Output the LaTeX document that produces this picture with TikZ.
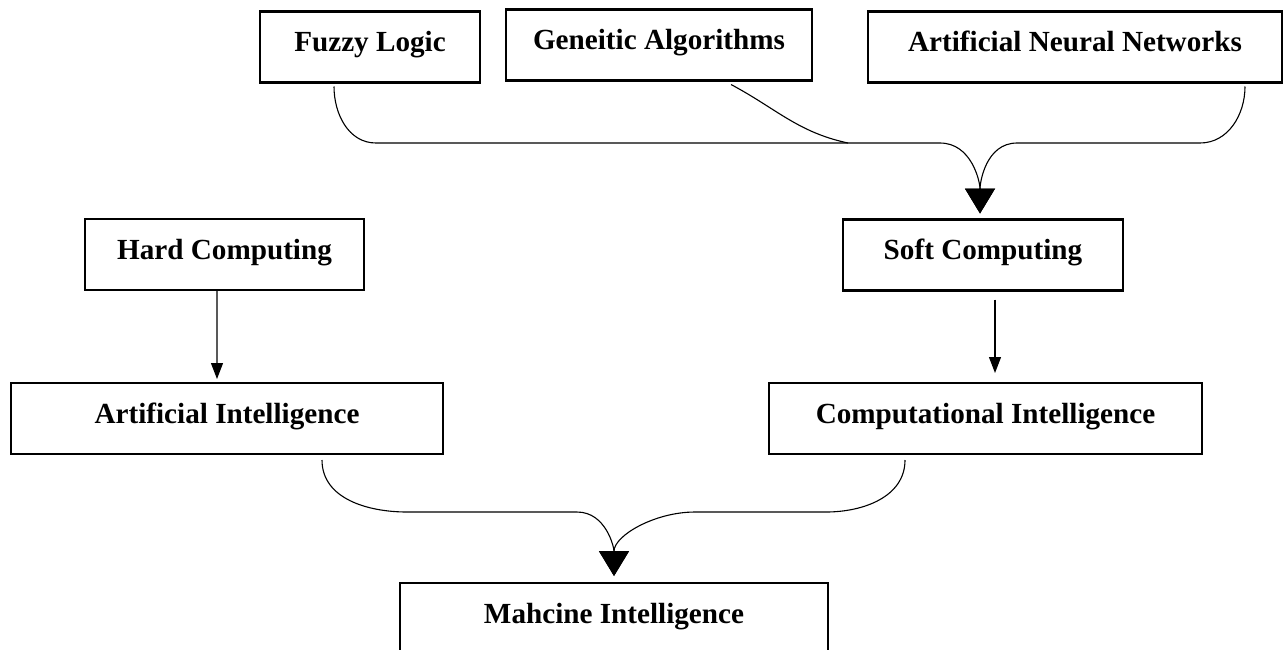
\documentclass[tikz,border=0pt]{standalone}
\usepackage{fontspec}
\setmainfont{Liberation Serif}
\usetikzlibrary{arrows.meta}

\tikzset{
  box/.style={draw, rectangle, line width=0.05cm, inner sep=0pt, outer sep=0pt,
    minimum height=1.42cm, text height=0.5cm, text depth=0.32cm,
    font=\fontsize{16.6}{20}\selectfont\bfseries},
  link/.style={line width=0.022cm},
  smallhead/.style={link, -{Triangle[length=0.32cm,width=0.24cm]}},
  bighead/.style={link, -{Triangle[length=0.5cm,width=0.6cm]}},
}

\begin{document}
\begin{tikzpicture}
                        \useasboundingbox (0,0) rectangle (25.700000,-12.980000);

                        % Drawing top row
                        \node [box, minimum width=4.40cm] (fuzzy)   at (7.400000,-0.940000)  {Fuzzy Logic};
                        \node [box, minimum width=6.12cm] (genetic) at (13.180000,-0.900000) {Geneitic Algorithms};
                        \node [box, minimum width=8.28cm] (ann)     at (21.500000,-0.940000) {Artificial Neural Networks};

                        % Drawing middle row
                        \node [box, minimum width=5.58cm] (hard) at (4.490000,-5.090000)  {Hard Computing};
                        \node [box, minimum width=5.60cm] (soft) at (19.660000,-5.100000) {Soft Computing};

                        % Drawing intelligence row
                        \node [box, minimum width=8.64cm] (ai) at (4.540000,-8.370000)  {Artificial Intelligence};
                        \node [box, minimum width=8.66cm] (ci) at (19.710000,-8.370000) {Computational Intelligence};

                        % Drawing bottom box (cut by the page)
                        \node [box, minimum width=8.56cm] (mi) at (12.280000,-12.370000) {Mahcine Intelligence};

                        % Drawing bracket into soft computing
                        \draw [bighead] ([xshift=-0.72cm,yshift=-0.08cm]fuzzy.south) to[out=-90,in=180] (7.520000,-2.860000)
                              -- (18.800000,-2.860000) to[out=0,in=90] ([xshift=-0.06cm,yshift=0.12cm]soft.north);%
                        \draw [bighead] ([xshift=3.40cm,yshift=-0.08cm]ann.south) to[out=-90,in=0] (24.000000,-2.860000)
                              -- (20.340000,-2.860000) to[out=180,in=90] ([xshift=-0.06cm,yshift=0.12cm]soft.north);%
                        \draw [link] ([xshift=1.44cm,yshift=-0.08cm]genetic.south) to[out=-28,in=168] (16.960000,-2.860000);%

                        % Drawing straight arrows
                        \draw [smallhead] ([xshift=-0.15cm]hard.south) -- ([xshift=-0.20cm,yshift=0.08cm]ai.north);%
                        \draw [smallhead] ([xshift=0.24cm,yshift=-0.18cm]soft.south) -- ([xshift=0.19cm,yshift=0.20cm]ci.north);%

                        % Drawing bracket into machine intelligence
                        \draw [bighead] ([xshift=1.90cm,yshift=-0.12cm]ai.south) to[out=-90,in=180] (8.140000,-10.240000)
                              -- (11.540000,-10.240000) to[out=0,in=90] ([yshift=0.14cm]mi.north);%
                        \draw [bighead] ([xshift=-1.61cm,yshift=-0.12cm]ci.south) to[out=-90,in=0] (16.520000,-10.240000)
                              -- (13.900000,-10.240000) to[out=180,in=90] ([yshift=0.14cm]mi.north);%
\end{tikzpicture}
\end{document}
